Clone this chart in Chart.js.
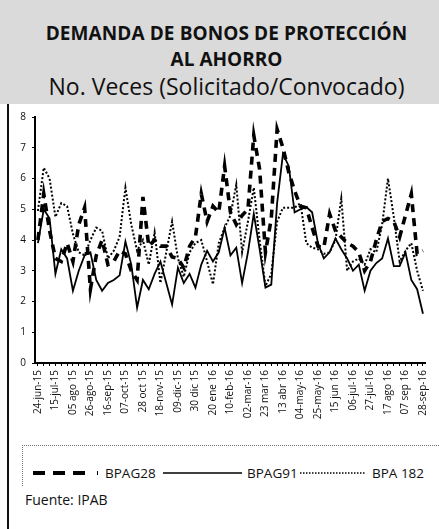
<!DOCTYPE html>
<html><head><meta charset="utf-8">
<script src="https://cdn.jsdelivr.net/npm/chart.js@4.4.1/dist/chart.umd.min.js"></script>
<style>
html,body{margin:0;padding:0;background:#fff;}
#page{position:relative;width:439px;height:529px;overflow:hidden;font-family:"Open Sans",sans-serif;color:#111;background:#fff;}
#head{position:absolute;left:0;top:0;width:439px;height:104px;background:#dadada;}
.t{position:absolute;left:14px;right:0;text-align:center;white-space:nowrap;line-height:1;}
#t1{top:24px;font-weight:700;font-size:19px;letter-spacing:0.1px;}
#t2{top:50px;font-weight:700;font-size:19px;}
#t3{top:75px;font-size:23px;}
#edge{position:absolute;left:7px;top:104px;width:2px;height:425px;background:#111;}
#cv{position:absolute;left:10px;top:105px;}
#legbox{position:absolute;left:22px;top:445px;width:420px;height:40px;border-top:1px dotted #777;border-left:1px dotted #777;}
#leg{position:absolute;left:0;top:463px;width:439px;height:20px;}
.lt{position:absolute;top:0;font-size:13.5px;line-height:20px;}
#src{position:absolute;left:25px;top:491px;font-size:14px;line-height:18px;}
</style></head>
<body><div id="page">
<div id="head"></div>
<div class="t" id="t1">DEMANDA DE BONOS DE PROTECCIÓN</div>
<div class="t" id="t2">AL AHORRO</div>
<div class="t" id="t3">No. Veces (Solicitado/Convocado)</div>
<div id="edge"></div>
<canvas id="cv" width="429" height="315"></canvas>
<div id="legbox"></div>
<div id="leg"></div>
<div id="src">Fuente: IPAB</div>
</div>
<script>
const categories = ["24-jun-15","01-jul-15","08-jul-15","15-jul-15","22-jul-15","29-jul-15","05 ago 15","12-ago-15","19-ago-15","26-ago-15","02-sep-15","09-sep-15","16-sep-15","23-sep-15","30-sep-15","07-oct-15","14-oct-15","21-oct-15","28 oct 15","04-nov-15","11-nov-15","18-nov-15","25-nov-15","02-dic-15","09-dic-15","16-dic-15","23-dic-15","30 dic 15","06-ene-16","13-ene-16","20 ene 16","27-ene-16","03-feb-16","10-feb-16","17-feb-16","24-feb-16","02-mar-16","09-mar-16","16-mar-16","23 mar 16","30-mar-16","06-abr-16","13 abr 16","20-abr-16","27-abr-16","04-may-16","11-may-16","18-may-16","25-may-16","01-jun-16","08-jun-16","15 jun 16","22-jun-16","29-jun-16","06-jul-16","13-jul-16","20-jul-16","27-jul-16","03-ago-16","10-ago-16","17 ago 16","24-ago-16","31-ago-16","07 sep 16","14-sep-16","21-sep-16","28-sep-16"];
const seriesNames = ["BPAG28","BPAG91","BPA 182"];
const bpag28 = [4.0,5.5,4.3,3.4,3.3,3.9,3.3,4.5,5.05,2.4,3.5,4.0,3.2,3.3,3.65,3.55,3.0,2.7,5.4,3.8,4.0,3.8,3.8,3.45,3.4,3.1,3.8,4.1,5.5,4.6,5.1,4.9,6.4,4.9,4.5,4.8,5.0,7.4,6.3,3.6,4.7,7.6,7.0,6.2,5.6,5.1,5.05,4.4,3.8,3.75,4.85,4.3,4.1,3.9,3.8,3.6,3.0,3.3,4.0,4.6,4.7,4.6,4.1,4.8,5.5,3.55,3.65];
const bpag91 = [3.9,5.0,4.7,2.9,3.7,3.4,2.35,3.0,3.5,3.6,2.7,2.35,2.6,2.7,2.85,3.95,3.2,1.8,2.7,2.4,2.9,3.3,2.6,1.9,3.1,2.6,2.9,2.45,3.2,3.65,3.3,3.6,4.4,3.5,3.75,2.6,3.6,4.85,3.7,2.45,2.55,5.2,6.8,6.4,4.9,5.0,5.07,4.9,3.9,3.4,3.6,4.05,3.7,3.4,3.0,3.2,2.35,3.0,3.25,3.4,4.05,3.15,3.15,3.6,2.7,2.4,1.6];
const bpa182 = [4.95,6.35,6.0,4.75,5.2,5.1,4.2,3.6,3.5,4.0,4.4,4.3,3.4,3.65,4.1,5.7,4.5,3.65,4.0,3.2,4.25,2.6,3.6,4.6,3.4,2.8,3.6,3.9,4.0,3.3,2.56,3.9,4.4,4.8,5.8,3.6,4.6,5.7,4.0,2.5,2.9,4.6,5.05,5.05,5.05,5.2,3.9,3.75,3.7,3.55,3.6,4.0,5.35,3.0,3.3,3.4,3.2,3.7,3.6,4.5,6.0,4.75,3.3,3.65,3.9,3.0,2.35];
const yTicks = [0,1,2,3,4,5,6,7,8];

const styles = [
  {borderWidth:3.6, borderDash:[8,6]},
  {borderWidth:1.8, borderDash:[]},
  {borderWidth:2, borderDash:[2,2]}
];
const values = [bpag28, bpag91, bpa182];

new Chart(document.getElementById('cv'), {
  type:'line',
  data:{
    labels:categories,
    datasets: seriesNames.map((n,k)=>({
      label:n, data:values[k], borderColor:'#000', backgroundColor:'#000',
      borderWidth:styles[k].borderWidth, borderDash:styles[k].borderDash,
      pointRadius:0, tension:0, fill:false, borderCapStyle:'butt', borderJoinStyle:'miter'
    }))
  },
  options:{
    responsive:false, devicePixelRatio:1, animation:false,
    layout:{padding:{top:9,right:4,left:0,bottom:0}},
    plugins:{legend:{display:false}, tooltip:{enabled:false}},
    scales:{
      x:{
        offset:true,
        grid:{display:true, drawOnChartArea:false, drawTicks:true, tickLength:3, color:'#000', lineWidth:1, offset:false},
        border:{display:true, color:'#000', width:2},
        ticks:{autoSkip:false, minRotation:90, maxRotation:90, padding:4, color:'#111',
          font:{family:'"Open Sans", sans-serif', size:10},
          callback:(v,i)=> i%3===0 ? categories[i] : ''},
        afterFit:(s)=>{s.height=57;}
      },
      y:{
        min:0, max:8,
        afterBuildTicks:(s)=>{s.ticks = yTicks.map(v=>({value:v}));},
        grid:{display:true, drawOnChartArea:false, drawTicks:true, tickLength:3, color:'#000'},
        border:{display:true, color:'#000', width:2},
        ticks:{color:'#111', padding:6, font:{family:'"Open Sans", sans-serif', size:10}},
        afterFit:(s)=>{s.width=25;}
      }
    }
  }
});

// legend from series names
const leg = document.getElementById('leg');
const legLayout = [
  {x1:33,x2:98,tx:105},
  {x1:163,x2:242,tx:247},
  {x1:300,x2:366,tx:372}
];
seriesNames.forEach((n,k)=>{
  const L = legLayout[k];
  const svg = document.createElementNS('http://www.w3.org/2000/svg','svg');
  svg.setAttribute('width', L.x2-L.x1+2); svg.setAttribute('height', 20);
  svg.style.position='absolute'; svg.style.left=L.x1+'px'; svg.style.top='0px';
  const ln = document.createElementNS('http://www.w3.org/2000/svg','line');
  ln.setAttribute('x1',0); ln.setAttribute('x2',L.x2-L.x1); ln.setAttribute('y1',10); ln.setAttribute('y2',10);
  ln.setAttribute('stroke','#000');
  ln.setAttribute('stroke-width', k===0?4:1.6);
  if(k===0) ln.setAttribute('stroke-dasharray','12 8 12 8 12 12 3 100');
  if(k===2) ln.setAttribute('stroke-dasharray','1.5 1.5');
  svg.appendChild(ln); leg.appendChild(svg);
  const t = document.createElement('div'); t.className='lt'; t.style.left=L.tx+'px'; t.textContent=n; leg.appendChild(t);
});
</script>
</body></html>
